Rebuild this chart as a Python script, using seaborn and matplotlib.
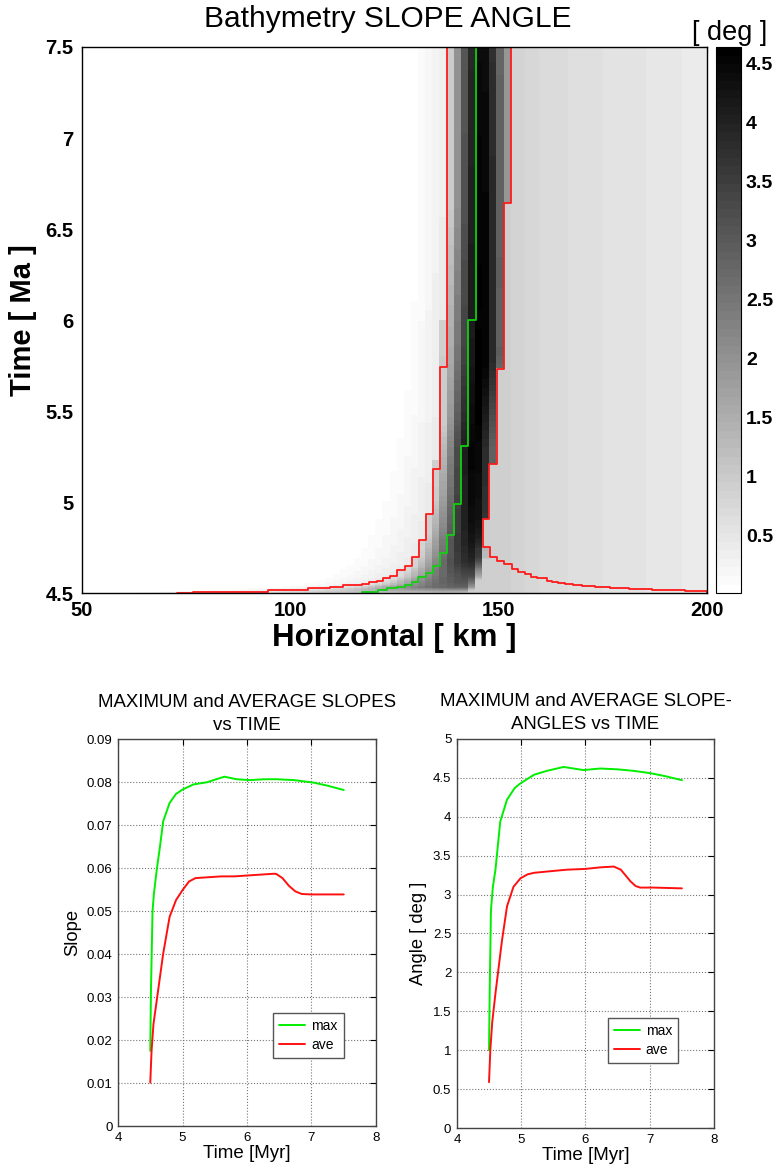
import numpy as np
import pandas as pd
import matplotlib
matplotlib.use("Agg")
import matplotlib.pyplot as plt
from matplotlib.colors import ListedColormap, Normalize
import seaborn as sns

# ---------------- lower-left panel: slope vs time ----------------
t_slope_max = [4.5, 4.51, 4.535, 4.556, 4.6, 4.65, 4.7, 4.8, 4.9, 5.0, 5.17, 5.38, 5.5, 5.65,
               5.84, 6.05, 6.25, 6.47, 6.73, 7.04, 7.25, 7.5]
slope_max = [0.0175, 0.031, 0.050, 0.054, 0.0596, 0.065, 0.0709, 0.0752, 0.0773, 0.0783, 0.0795,
             0.0800, 0.0806, 0.0813, 0.0807, 0.0805, 0.0807, 0.0807, 0.0805, 0.0799, 0.0792, 0.0782]
t_slope_ave = [4.5, 4.52, 4.55, 4.6, 4.7, 4.8, 4.9, 5.0, 5.1, 5.2, 5.4, 5.6, 5.8, 6.0, 6.2, 6.4,
               6.45, 6.55, 6.65, 6.75, 6.85, 7.0, 7.5]
slope_ave = [0.0101, 0.0175, 0.0238, 0.0292, 0.0401, 0.0487, 0.0526, 0.0549, 0.0569, 0.0577,
             0.0579, 0.0581, 0.0581, 0.0583, 0.0585, 0.0587, 0.0587, 0.0577, 0.0559, 0.0546,
             0.0540, 0.0539, 0.0539]

# ---------------- lower-right panel: slope angle vs time ----------------
t_angle_max = [4.5, 4.51, 4.53, 4.56, 4.6, 4.675, 4.78, 4.9, 4.99, 5.2, 5.4, 5.66, 5.97, 6.23,
               6.49, 6.75, 7.01, 7.25, 7.5]
angle_max = [1.0, 1.73, 2.8, 3.1, 3.32, 3.94, 4.22, 4.37, 4.43, 4.54, 4.59, 4.64, 4.60, 4.62,
             4.61, 4.59, 4.56, 4.52, 4.47]
t_angle_ave = [4.5, 4.52, 4.55, 4.6, 4.7, 4.78, 4.88, 4.99, 5.1, 5.2, 5.45, 5.71, 6.0, 6.23,
               6.44, 6.55, 6.62, 6.7, 6.78, 6.85, 7.06, 7.5]
angle_ave = [0.59, 1.0, 1.36, 1.73, 2.40, 2.85, 3.10, 3.21, 3.26, 3.28, 3.30, 3.32, 3.33, 3.35,
             3.36, 3.32, 3.25, 3.17, 3.11, 3.09, 3.09, 3.08]

# ---------------- top panel: step contours (x of vertical run, time where it ends) ----------------
red_left_x = [137.5, 135.9, 134.2, 132.6, 130.8, 129.2, 127.5, 125.7, 124.0, 122.3, 120.7, 119.0,
              117.1, 112.7, 109.5, 104.3, 94.7, 76.7, 72.7]
red_left_t = [5.74, 5.18, 4.932, 4.79, 4.70, 4.65, 4.626, 4.595, 4.58, 4.566, 4.559, 4.548,
              4.544, 4.531, 4.526, 4.516, 4.507, 4.502, 4.5]
green_x = [144.6, 142.7, 140.9, 139.3, 137.5, 135.9, 134.2, 132.6, 130.7, 129.1, 127.5, 125.5,
           123.1, 121.0, 117.1]
green_t = [6.00, 5.31, 4.99, 4.82, 4.72, 4.648, 4.612, 4.586, 4.562, 4.544, 4.535, 4.526,
           4.516, 4.507, 4.5]
red_right_x = [152.9, 151.3, 149.7, 147.8, 146.2, 147.9, 149.5, 151.2, 153.1, 154.7, 156.3, 157.7,
               159.1, 161.5, 162.7, 164.3, 165.9, 167.9, 169.9, 173.1, 176.7, 181.3, 186.7,
               194.7, 200.0]
red_right_t = [6.644, 5.733, 5.21, 4.905, 4.755, 4.70, 4.677, 4.66, 4.63, 4.617, 4.603, 4.59,
               4.581, 4.568, 4.561, 4.553, 4.548, 4.544, 4.538, 4.531, 4.526, 4.52, 4.515,
               4.511, 4.5]

# ---------------- top panel: slope-angle field description ----------------
edge_t = [4.5, 4.6, 4.7, 5.3, 5.8, 7.5]           # right edge of the steepest column
edge_x = [141.5, 143.5, 144.6, 144.6, 146.3, 146.3]
rise_u = [0.0, 0.097, 0.29, 0.49, 0.70, 0.90, 1.0]  # foreslope shape (fraction of max angle)
rise_s = [0.20, 0.22, 0.44, 0.69, 0.89, 1.0, 1.0]
flank_d = [0.0, 0.85, 2.55, 4.25, 5.95, 7.65, 10.0]  # landward flank (km past edge)
flank_f = [1.0, 0.97, 0.82, 0.60, 0.40, 0.19, 0.0]
flank_t = [4.5, 4.75, 4.9, 7.5]
flank_w = [0.35, 0.35, 1.0, 1.0]
bg_x = [144, 150, 155, 157, 160, 165, 170, 178, 186, 195, 200]
bg_v = [0.95, 0.90, 0.85, 0.80, 0.72, 0.67, 0.63, 0.56, 0.51, 0.43, 0.42]
halo_v = 0.42
halo_t = [4.5, 4.7, 5.0, 5.5, 6.0, 7.5]          # width (km) of the faint seaward halo
halo_w = [24, 21, 17, 13, 11, 10]
cbar_ticks = [0.5, 1, 1.5, 2, 2.5, 3, 3.5, 4, 4.5]
cbar_labels = ["0.5", "1", "1.5", "2", "2.5", "3", "3.5", "4", "4.5"]
top_xticks = [50, 100, 150, 200]
top_yticks = [4.5, 5, 5.5, 6, 6.5, 7, 7.5]
top_ylabels = ["4.5", "5", "5.5", "6", "6.5", "7", "7.5"]

# grid of the field
x_edges = np.arange(48.58, 202.0, 1.71)
t_edges = np.linspace(4.5, 7.5, 601)
xc = 0.5 * (x_edges[:-1] + x_edges[1:])
tc = 0.5 * (t_edges[:-1] + t_edges[1:])


def step_value(xs, ts, t):
    xs = np.asarray(xs)
    ts = np.asarray(ts)
    return np.array([xs[np.argmax(ts <= tt)] for tt in t])


def smooth_value(xs, ts, t, t_top=7.5):
    xs = np.asarray(xs, float)
    ts = np.asarray(ts, float)
    upper = np.concatenate([[t_top], ts[:-1]])
    mids = 0.5 * (upper + ts)
    tt = np.concatenate([[t_top], mids, [ts[-1]]])
    xx = np.concatenate([[xs[0]], xs, [xs[-1]]])
    order = np.argsort(tt)
    return np.interp(t, tt[order], xx[order])


def step_path(xs, ts, t_top=7.5):
    px, py = [], []
    prev = t_top
    for x, t in zip(xs, ts):
        px += [x, x]
        py += [prev, t]
        prev = t
    return px, py


Ls = smooth_value(red_left_x, red_left_t, tc)
R = step_value(red_right_x, red_right_t, tc)
A = np.interp(tc, t_angle_max, angle_max)
E = np.interp(tc, edge_t, edge_x)
FW = np.interp(tc, flank_t, flank_w)
HW = np.interp(tc, halo_t, halo_w)
bg = np.interp(xc, bg_x, bg_v)

field = np.zeros((len(tc), len(xc)))
for j in range(len(tc)):
    x = xc
    left = halo_v * np.clip(1 - (Ls[j] - x) / HW[j], 0, 1) ** 1.6
    inside = A[j] * np.interp((x - Ls[j]) / (E[j] - Ls[j]), rise_u, rise_s)
    flank = A[j] * np.interp((x - E[j]) / FW[j], flank_d, flank_f)
    right = np.where(x < R[j], np.maximum(flank, bg), bg)
    field[j] = np.where(x < Ls[j], left, np.where(x <= E[j], inside, right))

# ---------------- figure ----------------
sns.set_style("white")
plt.rcParams["font.family"] = ["Liberation Sans", "DejaVu Sans"]
plt.rcParams["text.color"] = "black"
plt.rcParams["axes.labelcolor"] = "black"
plt.rcParams["xtick.color"] = "black"
plt.rcParams["ytick.color"] = "black"

fig = plt.figure(figsize=(7.77, 11.72), dpi=100)

ax = fig.add_axes([0.1055, 0.494, 0.8044, 0.4659])
cax = fig.add_axes([0.9215, 0.494, 0.0322, 0.4659])

cmap = ListedColormap(plt.get_cmap("gray_r")(np.linspace(0, 1, 64)))
norm = Normalize(vmin=0.01, vmax=4.64)
mesh = ax.pcolormesh(x_edges, t_edges, field, cmap=cmap, norm=norm, shading="flat",
                     rasterized=True)

for xs, ts, col in [(red_left_x, red_left_t, "#ff1a1a"),
                    (red_right_x, red_right_t, "#ff1a1a"),
                    (green_x, green_t, "#10d010")]:
    px, py = step_path(xs, ts)
    ax.plot(px, py, color=col, lw=1.3)

ax.set_xlim(50, 200)
ax.set_ylim(4.5, 7.5)
ax.set_xticks(top_xticks)
ax.set_xticklabels([str(v) for v in top_xticks], fontsize=14.5, fontweight="bold")
ax.set_yticks(top_yticks)
ax.set_yticklabels(top_ylabels, fontsize=14.5, fontweight="bold")
ax.tick_params(direction="in", length=4, top=True, right=True, pad=6)
for sp in ax.spines.values():
    sp.set_color("black")
    sp.set_linewidth(1.0)
ax.set_xlabel("Horizontal [ km ]", fontsize=22.5, fontweight="bold", labelpad=2)
ax.set_ylabel("Time [ Ma ]", fontsize=21, fontweight="bold", labelpad=6)
fig.text(0.4987, 1 - 19 / 1172, "Bathymetry SLOPE ANGLE", ha="center", va="center",
         fontsize=21.5)
fig.text(0.9395, 1 - 33 / 1172, "[ deg ]", ha="center", va="center", fontsize=19.5)

cb = fig.colorbar(mesh, cax=cax, ticks=cbar_ticks)
cb.ax.set_yticklabels(cbar_labels, fontsize=14, fontweight="bold")
cb.ax.tick_params(direction="in", left=True, right=True, length=4)
cb.outline.set_edgecolor("black")

# ---------------- lower panels ----------------
ax1 = fig.add_axes([0.1519, 0.0392, 0.332, 0.330])
ax2 = fig.add_axes([0.588, 0.0375, 0.331, 0.332])

df_smax = pd.DataFrame({"t": t_slope_max, "v": slope_max})
df_save = pd.DataFrame({"t": t_slope_ave, "v": slope_ave})
df_amax = pd.DataFrame({"t": t_angle_max, "v": angle_max})
df_aave = pd.DataFrame({"t": t_angle_ave, "v": angle_ave})

sns.lineplot(data=df_smax, x="t", y="v", color="#00ee00", lw=1.4, label="max", ax=ax1)
sns.lineplot(data=df_save, x="t", y="v", color="#ff1010", lw=1.4, label="ave", ax=ax1)
sns.lineplot(data=df_amax, x="t", y="v", color="#00ee00", lw=1.4, label="max", ax=ax2)
sns.lineplot(data=df_aave, x="t", y="v", color="#ff1010", lw=1.4, label="ave", ax=ax2)

slope_ticks = [0, 0.01, 0.02, 0.03, 0.04, 0.05, 0.06, 0.07, 0.08, 0.09]
slope_labels = ["0", "0.01", "0.02", "0.03", "0.04", "0.05", "0.06", "0.07", "0.08", "0.09"]
angle_ticks = [0, 0.5, 1, 1.5, 2, 2.5, 3, 3.5, 4, 4.5, 5]
angle_labels = ["0", "0.5", "1", "1.5", "2", "2.5", "3", "3.5", "4", "4.5", "5"]
time_ticks = [4, 5, 6, 7, 8]

for a, yt, yl, ylim, ylab, title, lg in [
        (ax1, slope_ticks, slope_labels, (0, 0.09), "Slope",
         "MAXIMUM and AVERAGE SLOPES\nvs TIME", (0.60, 0.176)),
        (ax2, angle_ticks, angle_labels, (0, 5), "Angle [ deg ]",
         "MAXIMUM and AVERAGE SLOPE-\nANGLES vs TIME", (0.586, 0.167))]:
    a.set_xlim(4, 8)
    a.set_ylim(*ylim)
    a.set_xticks(time_ticks)
    a.set_xticklabels([str(v) for v in time_ticks], fontsize=9.5)
    a.set_yticks(yt)
    a.set_yticklabels(yl, fontsize=9.5)
    a.grid(True, ls=":", color="#777777", lw=0.8)
    a.tick_params(direction="in", length=4, top=True, right=True, width=0.8, pad=4)
    for sp in a.spines.values():
        sp.set_color("#444444")
        sp.set_linewidth(1.0)
    a.set_xlabel("Time [Myr]", fontsize=13.5, labelpad=1)
    a.set_ylabel(ylab, fontsize=13.2, labelpad=4)
    a.set_title(title, fontsize=13.4, linespacing=1.45, pad=7)
    leg = a.legend(loc="lower left", bbox_to_anchor=lg, frameon=True, fancybox=False,
                   edgecolor="#555555", framealpha=1, fontsize=10, handlelength=1.9,
                   borderpad=0.45, labelspacing=0.35, handletextpad=0.4, borderaxespad=0)
    leg.get_frame().set_linewidth(1.0)

fig.savefig("out.png", dpi=100)
